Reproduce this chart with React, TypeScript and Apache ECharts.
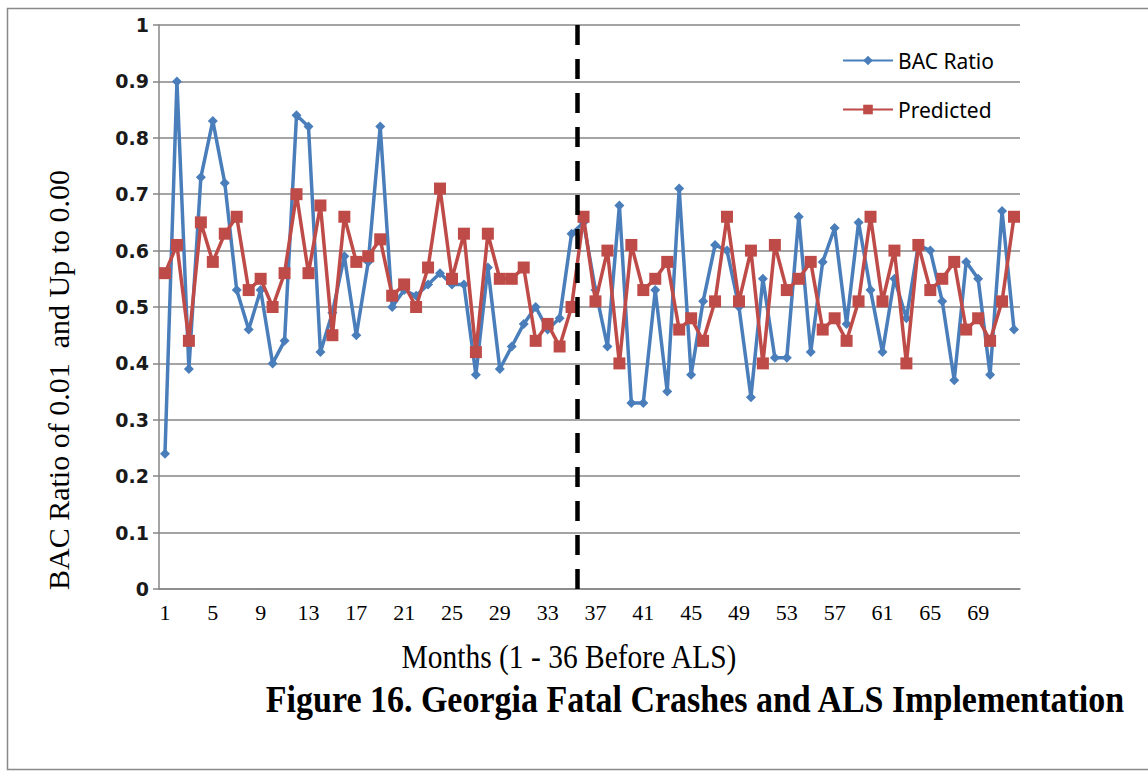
import React, { useEffect, useRef } from "react";
import * as echarts from "echarts";

const months = [
  "1", "2", "3", "4", "5", "6", "7", "8", "9", "10", "11", "12",
  "13", "14", "15", "16", "17", "18", "19", "20", "21", "22", "23", "24",
  "25", "26", "27", "28", "29", "30", "31", "32", "33", "34", "35", "36",
  "37", "38", "39", "40", "41", "42", "43", "44", "45", "46", "47", "48",
  "49", "50", "51", "52", "53", "54", "55", "56", "57", "58", "59", "60",
  "61", "62", "63", "64", "65", "66", "67", "68", "69", "70", "71", "72",
];

const bacRatio = [
  0.24, 0.9, 0.39, 0.73, 0.83, 0.72, 0.53, 0.46, 0.53, 0.4, 0.44, 0.84,
  0.82, 0.42, 0.49, 0.59, 0.45, 0.58, 0.82, 0.5, 0.53, 0.52, 0.54, 0.56,
  0.54, 0.54, 0.38, 0.57, 0.39, 0.43, 0.47, 0.5, 0.46, 0.48, 0.63, 0.65,
  0.53, 0.43, 0.68, 0.33, 0.33, 0.53, 0.35, 0.71, 0.38, 0.51, 0.61, 0.6,
  0.5, 0.34, 0.55, 0.41, 0.41, 0.66, 0.42, 0.58, 0.64, 0.47, 0.65, 0.53,
  0.42, 0.55, 0.48, 0.61, 0.6, 0.51, 0.37, 0.58, 0.55, 0.38, 0.67, 0.46,
];

const predicted = [
  0.56, 0.61, 0.44, 0.65, 0.58, 0.63, 0.66, 0.53, 0.55, 0.5, 0.56, 0.7,
  0.56, 0.68, 0.45, 0.66, 0.58, 0.59, 0.62, 0.52, 0.54, 0.5, 0.57, 0.71,
  0.55, 0.63, 0.42, 0.63, 0.55, 0.55, 0.57, 0.44, 0.47, 0.43, 0.5, 0.66,
  0.51, 0.6, 0.4, 0.61, 0.53, 0.55, 0.58, 0.46, 0.48, 0.44, 0.51, 0.66,
  0.51, 0.6, 0.4, 0.61, 0.53, 0.55, 0.58, 0.46, 0.48, 0.44, 0.51, 0.66,
  0.51, 0.6, 0.4, 0.61, 0.53, 0.55, 0.58, 0.46, 0.48, 0.44, 0.51, 0.66,
];

const alsBoundary = 35.5;
const seriesNames = ["BAC Ratio", "Predicted"];

const GRID = "#868686";

export default function App() {
  const ref = useRef<HTMLDivElement>(null);

  useEffect(() => {
    const chart = echarts.init(ref.current!, null, { renderer: "svg" });
    chart.setOption({
      animation: false,
      backgroundColor: "#ffffff",
      grid: { left: 159, right: 128, top: 25, bottom: 189 },
      legend: {
        data: seriesNames,
        orient: "vertical",
        left: 837,
        top: 45,
        itemWidth: 50,
        itemHeight: 12,
        itemGap: 28,
        textStyle: { fontFamily: "Noto Sans", fontSize: 21, color: "#000" },
      },
      xAxis: [
        {
          type: "category",
          data: months,
          boundaryGap: true,
          axisLine: { lineStyle: { color: GRID, width: 1.5 } },
          axisTick: { interval: 1, length: 7, lineStyle: { color: GRID, width: 1.5 } },
          axisLabel: {
            interval: 3,
            fontFamily: "Liberation Serif",
            fontSize: 22,
            color: "#000",
            margin: 12,
          },
          splitLine: { show: false },
        },
        { type: "value", min: 0.5, max: 72.5, show: false },
      ],
      yAxis: {
        type: "value",
        min: 0,
        max: 1,
        interval: 0.1,
        axisLine: { show: true, lineStyle: { color: GRID, width: 1.5 } },
        axisTick: { show: true, length: 6, lineStyle: { color: GRID, width: 1.5 } },
        axisLabel: {
          fontFamily: "DejaVu Sans",
          fontWeight: "bold",
          fontSize: 19,
          color: "#1a1a1a",
          margin: 10,
        },
        splitLine: { lineStyle: { color: GRID, width: 1.5 } },
      },
      series: [
        {
          name: seriesNames[0],
          type: "line",
          data: bacRatio,
          symbol: "diamond",
          symbolSize: 10,
          showAllSymbol: true,
          lineStyle: { color: "#4A7EBB", width: 3.5 },
          itemStyle: { color: "#4A7EBB" },
          z: 2,
        },
        {
          name: seriesNames[1],
          type: "line",
          data: predicted,
          symbol: "rect",
          symbolSize: 12,
          showAllSymbol: true,
          lineStyle: { color: "#BE4B48", width: 3.5 },
          itemStyle: { color: "#BE4B48" },
          z: 3,
        },
        {
          type: "line",
          xAxisIndex: 1,
          data: [],
          z: 4,
          markLine: {
            silent: true,
            symbol: "none",
            label: { show: false },
            lineStyle: { color: "#000", width: 4.5, type: [20, 14] },
            data: [{ xAxis: alsBoundary }],
          },
        },
      ],
      graphic: [
        {
          type: "rect",
          shape: { x: 7.5, y: 8.5, width: 1200, height: 761 },
          style: { fill: "none", stroke: "#898989", lineWidth: 1.5 },
          silent: true,
        },
        {
          type: "text",
          x: 58,
          y: 380,
          rotation: Math.PI / 2,
          style: {
            text: "BAC Ratio of 0.01  and Up to 0.00",
            font: '30px "Liberation Serif"',
            fill: "#000",
            align: "center",
            verticalAlign: "middle",
          },
        },
        {
          type: "text",
          x: 569,
          y: 657,
          scaleY: 1.15,
          style: {
            text: "Months (1 - 36 Before ALS)",
            font: '29.5px "Liberation Serif"',
            fill: "#000",
            align: "center",
            verticalAlign: "middle",
          },
        },
        {
          type: "text",
          x: 695,
          y: 699,
          scaleY: 1.12,
          style: {
            text: "Figure 16. Georgia Fatal Crashes and ALS Implementation",
            font: 'bold 34px "Liberation Serif"',
            fill: "#000",
            align: "center",
            verticalAlign: "middle",
          },
        },
      ],
    });
    return () => chart.dispose();
  }, []);

  return (
    <div
      ref={ref}
      style={{ position: "fixed", left: 0, top: 0, width: 1148, height: 778, background: "#fff" }}
    />
  );
}
